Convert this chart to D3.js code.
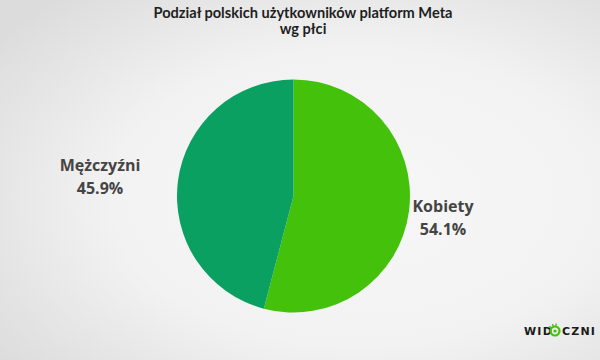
<!DOCTYPE html>
<html><head><meta charset="utf-8">
<script src="https://cdn.jsdelivr.net/npm/d3@7"></script>
<style>html,body{margin:0;padding:0;}svg{display:block;}</style>
</head><body>
<script>
const categories = ["Kobiety", "Mężczyźni"];
const values = [54.1, 45.9];
const colors = ["#44c20b", "#0aa062"];
const titleLines = ["Podział polskich użytkowników platform Meta", "wg płci"];

const W = 600, H = 360;
const svg = d3.select("body").append("svg").attr("width", W).attr("height", H);
const defs = svg.append("defs");
const grad = defs.append("radialGradient").attr("id", "bg")
  .attr("cx", "60%").attr("cy", "55%").attr("r", "75%");
grad.append("stop").attr("offset", "0%").attr("stop-color", "#f7f7f7");
grad.append("stop").attr("offset", "55%").attr("stop-color", "#f2f2f2");
grad.append("stop").attr("offset", "100%").attr("stop-color", "#dcdcdc");
svg.append("rect").attr("width", W).attr("height", H).attr("fill", "url(#bg)");

const font = "Lato, 'Open Sans', sans-serif";
svg.append("g").selectAll("text").data(titleLines).join("text")
  .attr("x", 303).attr("y", (d, i) => 18 + i * 16)
  .attr("text-anchor", "middle").attr("font-family", font)
  .attr("font-weight", 700).attr("font-size", 14.6).attr("fill", "#1e1e1e")
  .text(d => d);

const cx = 293.5, cy = 196, r = 116.5;
const data = categories.map((c, i) => ({ name: c, value: values[i], color: colors[i] }));
const pie = d3.pie().value(d => d.value).sort(null);
const arc = d3.arc().innerRadius(0).outerRadius(r);
const arcs = pie(data);
const g = svg.append("g").attr("transform", `translate(${cx},${cy})`);
g.selectAll("path").data(arcs).join("path").attr("d", arc).attr("fill", d => d.data.color);

const labelPos = [[443, 212], [100, 171]];
const lg = svg.append("g");
arcs.forEach((a, i) => {
  const [x, y] = labelPos[i];
  const t = lg.append("text").attr("text-anchor", "middle").attr("font-family", "'Open Sans', sans-serif")
    .attr("font-weight", 700).attr("font-size", 16).attr("fill", "#444");
  t.append("tspan").attr("x", x).attr("y", y).text(a.data.name);
  t.append("tspan").attr("x", x).attr("y", y + 23).text(a.data.value.toFixed(1) + "%");
});

// logo
const logo = svg.append("g").attr("font-family", "'DejaVu Sans', sans-serif").attr("font-weight", 700)
  .attr("font-size", 11).attr("fill", "#1a1a1a");
logo.append("text").attr("x", 524).attr("y", 335).attr("letter-spacing", 1.2).text("WID");
logo.append("text").attr("x", 562).attr("y", 335).attr("letter-spacing", 1.2).text("CZNI");
const ic = svg.append("g").attr("transform", "translate(555,331)");
ic.append("circle").attr("r", 4.5).attr("fill", "none").attr("stroke", "#44c20b").attr("stroke-width", 2.2);
ic.append("circle").attr("r", 1.6).attr("fill", "#44c20b");
[-50, -20, 10].forEach(a => {
  const rad = a * Math.PI / 180;
  ic.append("line").attr("x1", Math.sin(rad) * 5).attr("y1", -Math.cos(rad) * 5)
    .attr("x2", Math.sin(rad) * 7.5).attr("y2", -Math.cos(rad) * 7.5)
    .attr("stroke", "#44c20b").attr("stroke-width", 1.4);
});
</script>
</body></html>
